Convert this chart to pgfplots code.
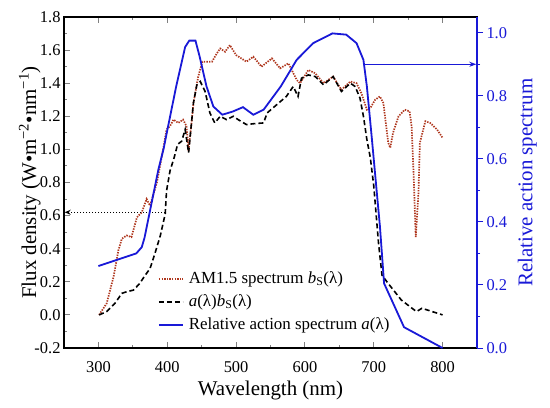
\documentclass[border=0pt]{standalone}
\usepackage{fontspec}
\setmainfont{Liberation Serif}
\usepackage{pgfplots}
\usepackage{pgfplotstable}
\pgfplotsset{compat=1.18}
\usetikzlibrary{arrows.meta}

\definecolor{amred}{RGB}{175,55,30}
\definecolor{actblue}{RGB}{25,25,215}

% AM1.5 spectrum b_S (W m^-2 nm^-1)
\pgfplotstableread{
lam v
301 0.00
312 0.07
322 0.23
329 0.39
334 0.46
341 0.48
348 0.47
356 0.59
363 0.62
370 0.70
375 0.66
385 0.80
394 1.00
399 1.12
404 1.14
409 1.18
416 1.16
423 1.18
428 1.14
431 0.99
435 1.15
438 1.28
445 1.44
451 1.53
465 1.53
472 1.58
477 1.61
484 1.59
491 1.63
500 1.57
515 1.53
525 1.56
537 1.50
552 1.55
564 1.49
576 1.52
588 1.42
593 1.40
605 1.48
615 1.46
627 1.40
641 1.44
653 1.36
666 1.41
675 1.40
682 1.34
690 1.24
695 1.25
702 1.30
709 1.32
714 1.28
721 1.04
724 1.01
728 1.10
736 1.20
745 1.24
752 1.23
755 1.14
758 0.84
761 0.47
765 0.74
767 1.04
775 1.17
782 1.16
792 1.12
800 1.07
}\amspec

% a(lambda) b_S(lambda)
\pgfplotstableread{
lam v
301 0.00
312 0.02
324 0.07
334 0.13
341 0.14
351 0.15
360 0.19
368 0.24
375 0.28
382 0.37
390 0.48
397 0.61
399 0.75
404 0.87
410 0.95
415 1.03
421 1.05
426 1.12
431 0.98
438 1.28
443 1.39
448 1.41
455 1.35
462 1.22
469 1.16
477 1.20
486 1.18
496 1.20
503 1.18
515 1.15
525 1.155
540 1.16
545 1.22
559 1.27
573 1.32
583 1.38
590 1.32
595 1.43
605 1.45
615 1.44
627 1.39
641 1.44
653 1.35
666 1.40
673 1.38
680 1.31
685 1.20
690 1.06
695 0.95
700 0.78
707 0.43
712 0.24
721 0.19
740 0.09
762 0.02
770 0.04
800 0.00
}\product

% relative action spectrum a(lambda)
\pgfplotstableread{
lam a
300 0.26
355 0.30
363 0.32
367 0.35
387 0.565
395 0.635
400 0.69
413 0.83
426 0.955
432 0.975
441 0.975
447 0.925
457 0.83
467 0.766
480 0.74
495 0.75
510 0.764
525 0.74
540 0.756
565 0.83
588 0.914
612 0.967
640 0.998
660 0.994
675 0.967
685 0.914
690 0.83
697 0.67
709 0.385
715 0.205
744 0.066
800 0.0
}\action

\begin{document}
\begin{tikzpicture}
\pgfplotsset{
  every axis/.append style={
    scale only axis, width=413bp, height=331bp,
    xmin=250, xmax=850,
    clip=false,
    tick label style={font=\fontsize{16.5}{19}\selectfont},
    label style={font=\fontsize{21}{24}\selectfont},
    /pgf/number format/assume math mode=true,
    xticklabel style={yshift=-10bp},
    yticklabel style={/pgf/number format/fixed, /pgf/number format/fixed zerofill, /pgf/number format/precision=1},
    major tick length=6bp, minor tick length=3bp,
    axis line style={line width=1.2bp},
    every tick/.append style={line width=1bp},
  },
  legend image code/.code={\draw[#1] (0bp,0bp) -- (24bp,0bp); \path (27bp,0bp);},
}
\begin{axis}[
  name=main,
  ymin=-0.2, ymax=1.8,
  xtick={300,400,...,800}, minor x tick num=1,
  ytick={-0.2,0,0.2,0.4,0.6,0.8,1.0,1.2,1.4,1.6,1.8}, minor y tick num=1,
  ytick pos=left,
  tick align=inside,
  xlabel={Wavelength (nm)},
  xlabel style={yshift=-2bp},
  ylabel={Flux density (W•m\textsuperscript{−2}•nm\textsuperscript{−1})},
  ylabel style={yshift=-13bp},
]
\addplot[amred, line width=1.7bp, dash pattern=on 1.4bp off 1.2bp] table[x=lam, y=v] {\amspec};
\addplot[black, line width=1.6bp, dash pattern=on 5bp off 3bp] table[x=lam, y=v] {\product};
\addplot[black, line width=1bp, dash pattern=on 1.5bp off 1.5bp, -{Stealth[length=6bp,width=5bp]}] coordinates {(397,0.62) (251,0.62)};
\end{axis}

\begin{axis}[
  ymin=0, ymax=1.05,
  axis x line=none, axis y line*=right,
  ytick={0,0.2,0.4,0.6,0.8,1.0}, minor y tick num=1,
  tick align=outside,
  axis line style={actblue, line width=1.2bp},
  tick style={actblue},
  yticklabel style={text=actblue},
  ylabel={Relative action spectrum},
  ylabel style={text=actblue, yshift=-4bp},
  legend style={at={(0.22,0.245)}, anchor=north west, draw=none, fill=none,
    font=\fontsize{17}{20}\selectfont, row sep=3bp,
    nodes={text height=12bp, text depth=4bp}},
  legend cell align=left,
]
\addlegendimage{amred, line width=1.7bp, dash pattern=on 1.4bp off 1.2bp}
\addlegendentry{AM1.5 spectrum \textit{b}\textsubscript{S}(λ)}
\addlegendimage{black, line width=1.6bp, dash pattern=on 5bp off 3bp}
\addlegendentry{\textit{a}(λ)\textit{b}\textsubscript{S}(λ)}
\addplot[actblue, line width=1.8bp] table[x=lam, y=a] {\action};
\addlegendentry{Relative action spectrum \textit{a}(λ)}
\addplot[actblue, line width=1.2bp, -{Stealth[length=7bp,width=5bp]}, forget plot] coordinates {(687,0.9) (849,0.9)};
\end{axis}

\pgfresetboundingbox
\path[use as bounding box] ([xshift=-64bp,yshift=-59bp]main.south west) rectangle ([xshift=73bp,yshift=17bp]main.north east);
\end{tikzpicture}
\end{document}
